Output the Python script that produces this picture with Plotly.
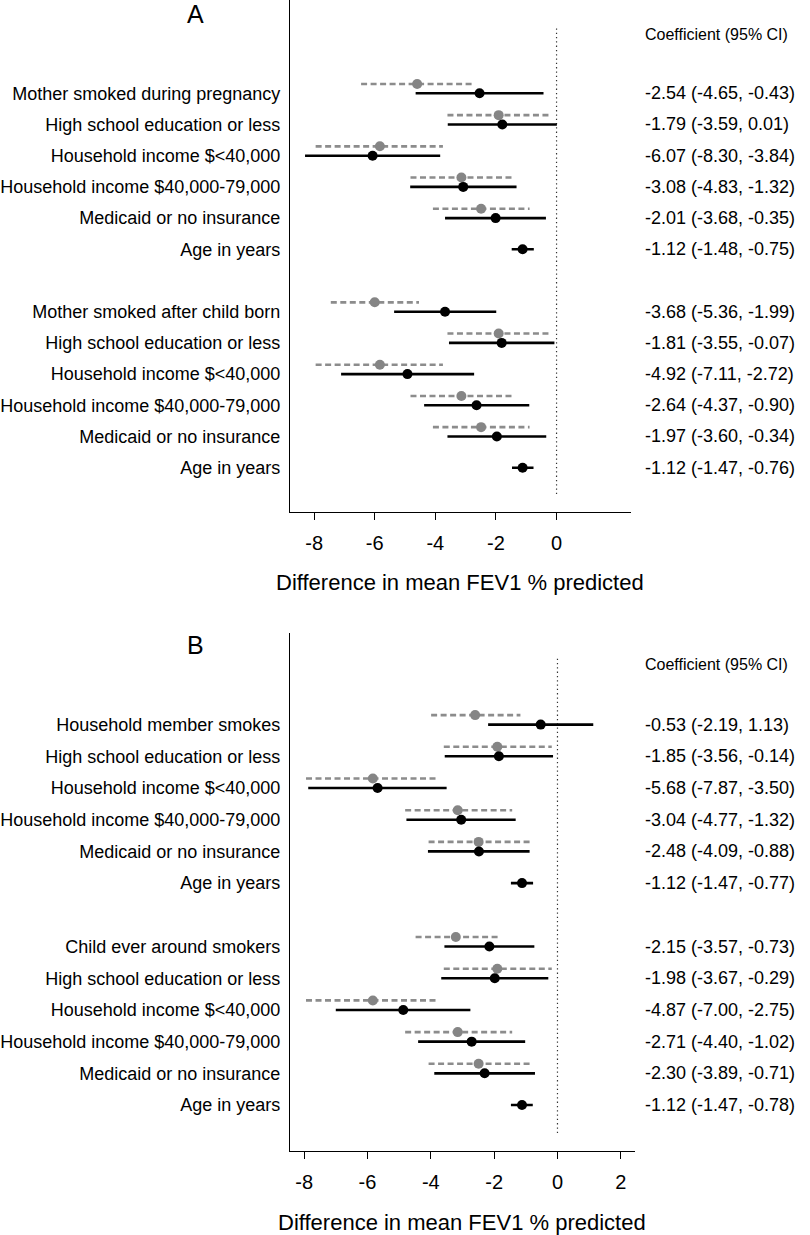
import plotly.graph_objects as go

W, H = 810, 1235
FONT = "Liberation Sans, Arial, Helvetica, sans-serif"

# ---------------- data ----------------
labels_A = ["Mother smoked during pregnancy", "High school education or less",
            "Household income $<40,000", "Household income $40,000-79,000",
            "Medicaid or no insurance", "Age in years",
            "Mother smoked after child born", "High school education or less",
            "Household income $<40,000", "Household income $40,000-79,000",
            "Medicaid or no insurance", "Age in years"]
labels_B = ["Household member smokes", "High school education or less",
            "Household income $<40,000", "Household income $40,000-79,000",
            "Medicaid or no insurance", "Age in years",
            "Child ever around smokers", "High school education or less",
            "Household income $<40,000", "Household income $40,000-79,000",
            "Medicaid or no insurance", "Age in years"]

# adjusted estimates (black)
coef_A = [-2.54, -1.79, -6.07, -3.08, -2.01, -1.12, -3.68, -1.81, -4.92, -2.64, -1.97, -1.12]
lo_A   = [-4.65, -3.59, -8.30, -4.83, -3.68, -1.48, -5.36, -3.55, -7.11, -4.37, -3.60, -1.47]
hi_A   = [-0.43,  0.01, -3.84, -1.32, -0.35, -0.75, -1.99, -0.07, -2.72, -0.90, -0.34, -0.76]
coef_B = [-0.53, -1.85, -5.68, -3.04, -2.48, -1.12, -2.15, -1.98, -4.87, -2.71, -2.30, -1.12]
lo_B   = [-2.19, -3.56, -7.87, -4.77, -4.09, -1.47, -3.57, -3.67, -7.00, -4.40, -3.89, -1.47]
hi_B   = [ 1.13, -0.14, -3.50, -1.32, -0.88, -0.77, -0.73, -0.29, -2.75, -1.02, -0.71, -0.78]

# unadjusted estimates (grey); none for age
g_coef_A = [-4.60, -1.91, -5.83, -3.14, -2.49, None, -6.00, -1.91, -5.83, -3.14, -2.49, None]
g_lo_A   = [-6.45, -3.60, -7.95, -4.82, -4.08, None, -7.45, -3.60, -7.95, -4.82, -4.08, None]
g_hi_A   = [-2.80, -0.22, -3.75, -1.47, -0.89, None, -4.54, -0.22, -3.75, -1.47, -0.89, None]
g_coef_B = [-2.60, -1.90, -5.83, -3.15, -2.49, None, -3.21, -1.90, -5.83, -3.15, -2.49, None]
g_lo_B   = [-3.99, -3.59, -7.94, -4.81, -4.07, None, -4.48, -3.59, -7.94, -4.81, -4.07, None]
g_hi_B   = [-1.17, -0.18, -3.78, -1.43, -0.86, None, -1.84, -0.18, -3.78, -1.43, -0.86, None]

ticks_A = [-8, -6, -4, -2, 0]
ticks_B = [-8, -6, -4, -2, 0, 2]
x_title = "Difference in mean FEV1 % predicted"
header = "Coefficient (95% CI)"

# ---------------- figure ----------------
fig = go.Figure()

BLACK = "#000000"
GREY_L = "#8c8c8c"
GREY_M = "#858585"
GOFF = 0.3


def rows_of(n):
    return [i + (1 if i >= 6 else 0) for i in range(n)]


def add_panel(xa, ya, labels, c, lo, hi, gc, glo, ghi):
    rows = rows_of(len(labels))
    # zero reference line
    fig.add_trace(go.Scatter(x=[0, 0], y=[-2.08, 12.88], mode="lines",
                             line=dict(color="#333333", width=1.2, dash="1.3px,3px"),
                             xaxis=xa, yaxis=ya, hoverinfo="skip", showlegend=False))
    # grey dashed CIs
    gx, gy, mx, my = [], [], [], []
    for r, e, l, h in zip(rows, gc, glo, ghi):
        if e is None:
            continue
        gx += [l, h, None]
        gy += [r - GOFF, r - GOFF, None]
        mx.append(e)
        my.append(r - GOFF)
    fig.add_trace(go.Scatter(x=gx, y=gy, mode="lines",
                             line=dict(color=GREY_L, width=2.6, dash="6px,3.5px"),
                             xaxis=xa, yaxis=ya, hoverinfo="skip", showlegend=False))
    fig.add_trace(go.Scatter(x=mx, y=my, mode="markers",
                             marker=dict(color=GREY_M, size=10, line=dict(width=0)),
                             xaxis=xa, yaxis=ya, showlegend=False))
    # black CIs
    bx, by = [], []
    for r, l, h in zip(rows, lo, hi):
        bx += [l, h, None]
        by += [r, r, None]
    fig.add_trace(go.Scatter(x=bx, y=by, mode="lines",
                             line=dict(color=BLACK, width=2.6),
                             xaxis=xa, yaxis=ya, hoverinfo="skip", showlegend=False))
    fig.add_trace(go.Scatter(x=c, y=rows, mode="markers",
                             marker=dict(color=BLACK, size=10, line=dict(width=0)),
                             xaxis=xa, yaxis=ya, showlegend=False))
    # coefficient texts
    yref = "y" if ya == "y" else "y2"
    fig.add_annotation(x=641 / W, xref="paper", y=-1.9, yref=yref, text=header,
                       showarrow=False, xanchor="left", yanchor="middle",
                       font=dict(family=FONT, size=16, color=BLACK))
    for r, e, l, h in zip(rows, c, lo, hi):
        fig.add_annotation(x=641 / W, xref="paper", y=r, yref=yref,
                           text=f"{e:.2f} ({l:.2f}, {h:.2f})",
                           showarrow=False, xanchor="left", yanchor="middle",
                           font=dict(family=FONT, size=18, color=BLACK))
    return rows


rows_A = add_panel("x", "y", labels_A, coef_A, lo_A, hi_A, g_coef_A, g_lo_A, g_hi_A)
rows_B = add_panel("x2", "y2", labels_B, coef_B, lo_B, hi_B, g_coef_B, g_lo_B, g_hi_B)

axis_common = dict(showgrid=False, zeroline=False, showline=True, linecolor=BLACK,
                   linewidth=1.4, mirror=False)

fig.update_layout(
    width=W, height=H, margin=dict(l=0, r=0, t=0, b=0),
    paper_bgcolor="white", plot_bgcolor="white", showlegend=False,
    font=dict(family=FONT, color=BLACK),
    xaxis=dict(domain=[285 / W, 629 / W], range=[-8.79, 2.45], anchor="y",
               tickvals=ticks_A, ticktext=[str(t) for t in ticks_A],
               ticks="outside", ticklen=7, tickwidth=1.4,
               tickcolor=BLACK, tickfont=dict(size=20, family=FONT, color=BLACK),
               ticklabelstandoff=6, **axis_common),
    yaxis=dict(domain=[1 - 512 / H, 1.0], range=[13.42, -2.99], anchor="x",
               tickvals=rows_A, ticktext=labels_A, ticks="",
               tickfont=dict(size=18, family=FONT, color=BLACK),
               ticklabelstandoff=5, **axis_common),
    xaxis2=dict(domain=[285 / W, 633 / W], range=[-8.44, 2.44], anchor="y2",
                tickvals=ticks_B, ticktext=[str(t) for t in ticks_B],
                ticks="outside", ticklen=7, tickwidth=1.4,
                tickcolor=BLACK, tickfont=dict(size=20, family=FONT, color=BLACK),
                ticklabelstandoff=6, **axis_common),
    yaxis2=dict(domain=[1 - 1151 / H, 1 - 633 / H], range=[13.45, -2.89], anchor="x2",
                tickvals=rows_B, ticktext=labels_B, ticks="",
                tickfont=dict(size=18, family=FONT, color=BLACK),
                ticklabelstandoff=5, **axis_common),
)

# axis titles and panel letters
for ypix, xc in [(583, 457), (1222, 459)]:
    fig.add_annotation(x=xc / W, y=1 - ypix / H, xref="paper", yref="paper",
                       text=x_title, showarrow=False, xanchor="center", yanchor="middle",
                       font=dict(family=FONT, size=22, color=BLACK))
for ypix, letter in [(14, "A"), (645, "B")]:
    fig.add_annotation(x=189 / W, y=1 - ypix / H, xref="paper", yref="paper",
                       text=letter, showarrow=False, xanchor="center", yanchor="middle",
                       font=dict(family=FONT, size=25, color=BLACK))

fig.write_html("out.html",
               config={"displayModeBar": False},
               post_script="document.body.style.margin='0px';"
                           "document.body.style.padding='0px';"
                           "document.body.style.overflow='hidden';")
